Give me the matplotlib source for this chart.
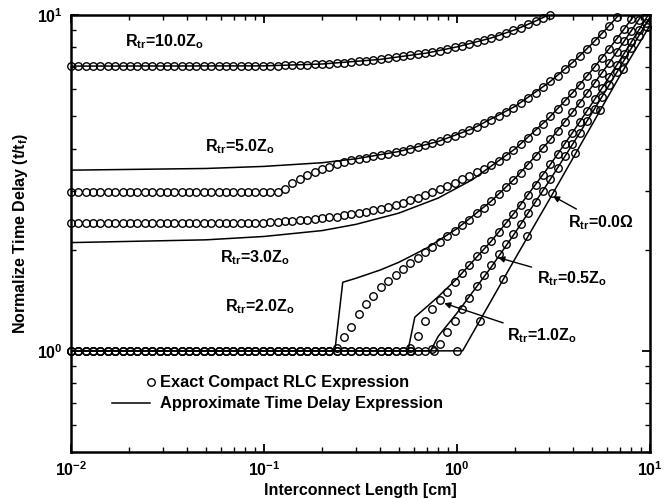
#!/usr/bin/env python3

"""Normalized time delay vs interconnect length, exact vs approximate."""

import math

import matplotlib
matplotlib.use("Agg")
import matplotlib.pyplot as plt
from matplotlib.ticker import FuncFormatter, LogLocator, NullFormatter

plt.rcParams["font.family"] = ["Liberation Sans", "DejaVu Sans"]
plt.rcParams["font.weight"] = "bold"
plt.rcParams["mathtext.fontset"] = "custom"
plt.rcParams["mathtext.rm"] = "Liberation Sans:bold"
plt.rcParams["mathtext.bf"] = "Liberation Sans:bold"
plt.rcParams["mathtext.it"] = "Liberation Sans:bold"
plt.rcParams["mathtext.default"] = "bf"

# interconnect lengths [cm] at which the exact expression was sampled
GRID = [0.0100, 0.0109, 0.0119, 0.0130, 0.0142, 0.0155, 0.0170, 0.0185, 0.0202, 0.0221,
        0.0241, 0.0264, 0.0288, 0.0314, 0.0343, 0.0375, 0.0409, 0.0447, 0.0488, 0.0533,
        0.0582, 0.0635, 0.0694, 0.0758, 0.0827, 0.0903, 0.0986, 0.108, 0.118, 0.128,
        0.140, 0.153, 0.167, 0.183, 0.199, 0.218, 0.238, 0.260, 0.284, 0.310,
        0.338, 0.369, 0.403, 0.440, 0.481, 0.525, 0.573, 0.626, 0.684, 0.747,
        0.815, 0.890, 0.972, 1.06, 1.16, 1.27, 1.38, 1.51, 1.65, 1.80,
        1.96, 2.14, 2.34, 2.56, 2.79, 3.05, 3.33, 3.63, 3.97, 4.33,
        4.73, 5.17, 5.64, 6.16, 6.73, 7.35, 8.02, 8.76, 9.56]

# exact compact RLC expression (circles), values on GRID
exact_10 = [7.04] * 27 + [
    7.05, 7.06, 7.07, 7.08, 7.09, 7.10, 7.12, 7.14, 7.16, 7.18, 7.21, 7.24, 7.27,
    7.30, 7.34, 7.38, 7.42, 7.47, 7.52, 7.57, 7.63, 7.69, 7.76, 7.83, 7.91, 8.00,
    8.09, 8.19, 8.30, 8.41, 8.54, 8.68, 8.83, 8.99, 9.17, 9.37, 9.59, 9.82, 10.0]
exact_5 = [2.98] * 29 + [
    3.03, 3.15, 3.25, 3.33, 3.41, 3.47, 3.53, 3.59, 3.64, 3.69, 3.73, 3.76, 3.79,
    3.82, 3.86, 3.90, 3.94, 3.98, 4.03, 4.09, 4.15, 4.21, 4.29, 4.36, 4.45, 4.54,
    4.65, 4.75, 4.87, 5.01, 5.15, 5.30, 5.47, 5.66, 5.87, 6.09, 6.34, 6.60, 6.89,
    7.21, 7.55, 7.93, 8.35, 8.80, 9.29, 9.83]
exact_3 = [2.41] * 27 + [
    2.42, 2.42, 2.43, 2.44, 2.45, 2.46, 2.47, 2.48, 2.50, 2.51, 2.53, 2.55, 2.57,
    2.59, 2.62, 2.65, 2.68, 2.72, 2.76, 2.81, 2.86, 2.91, 2.97, 3.03, 3.10, 3.17,
    3.24, 3.32, 3.40, 3.48, 3.57, 3.67, 3.80, 3.95, 4.12, 4.31, 4.52, 4.74, 4.99,
    5.25, 5.54, 5.86, 6.20, 6.58, 7.00, 7.45, 7.94, 8.48, 9.07, 9.71]
exact_2 = [1.0] * 36 + [
    1.02, 1.10, 1.18, 1.29, 1.38, 1.46, 1.55, 1.61, 1.68, 1.75, 1.82, 1.89, 1.97,
    2.04, 2.11, 2.20, 2.28, 2.37, 2.46, 2.57, 2.67, 2.79, 2.93, 3.07, 3.22, 3.39,
    3.58, 3.79, 4.01, 4.26, 4.52, 4.81, 5.13, 5.47, 5.85, 6.27, 6.72, 7.21, 7.75,
    8.34, 8.98, 9.68]
exact_1 = [1.0] * 46 + [
    1.02, 1.11, 1.23, 1.33, 1.42, 1.50, 1.60, 1.70, 1.80, 1.91, 2.01, 2.13, 2.26,
    2.40, 2.55, 2.72, 2.91, 3.12, 3.34, 3.59, 3.85, 4.14, 4.46, 4.80, 5.18, 5.60,
    6.05, 6.54, 7.08, 7.67, 8.31, 9.01, 9.77]
exact_05 = [1.0] * 49 + [
    1.01, 1.05, 1.14, 1.23, 1.33, 1.44, 1.56, 1.68, 1.80, 1.94, 2.08, 2.23, 2.38,
    2.57, 2.78, 2.99, 3.24, 3.51, 3.79, 4.12, 4.46, 4.84, 5.26, 5.70, 6.20, 6.74,
    7.33, 7.96, 8.67, 9.43]
exact_0_x = [0.44, 0.578, 0.76, 1.0, 1.315, 1.73, 2.31, 3.1, 4.08, 5.5, 7.24, 9.64]
exact_0_y = [1.0, 1.0, 1.0, 1.0, 1.23, 1.64, 2.2, 2.95, 3.88, 5.2, 6.9, 9.2]

# approximate time delay expression (lines)
approx = {
    "10": ([0.01, 0.1, 0.2, 0.4, 0.7, 1.0, 1.5, 2.0, 2.5, 3.1],
           [7.04, 7.05, 7.14, 7.37, 7.70, 8.03, 8.53, 9.03, 9.53, 10.1]),
    "5": ([0.01, 0.05, 0.1, 0.2, 0.3, 0.5, 0.8, 1.2, 2, 3, 4, 5, 6, 7],
          [3.45, 3.49, 3.54, 3.63, 3.73, 3.92, 4.2, 4.58, 5.34, 6.29, 7.24, 8.19, 9.14, 10.09]),
    "3": ([0.01, 0.05, 0.1, 0.2, 0.3, 0.5, 0.8, 1.2, 2, 3, 4, 5, 6, 7, 8, 8.5],
          [2.10, 2.14, 2.19, 2.28, 2.38, 2.57, 2.85, 3.23, 3.99, 4.94, 5.89, 6.84,
           7.79, 8.74, 9.69, 10.17]),
    "2": ([0.01, 0.233, 0.256, 0.3, 0.4, 0.5, 0.7, 1.0, 1.5, 2, 3, 4, 5, 6, 7, 8, 9, 9.5],
          [1, 1, 1.6, 1.645, 1.74, 1.835, 2.025, 2.31, 2.785, 3.26, 4.21, 5.16, 6.11,
           7.06, 8.01, 8.96, 9.91, 10.39]),
    "1": ([0.01, 0.557, 0.605, 0.7, 0.8, 1, 1.5, 2, 3, 4, 5, 6, 7, 8, 9, 10],
          [1, 1, 1.26, 1.355, 1.45, 1.64, 2.115, 2.59, 3.54, 4.49, 5.44, 6.39, 7.34,
           8.29, 9.24, 10.19]),
    "0.5": ([0.01, 0.73, 0.8, 1, 1.5, 2, 3, 4, 5, 6, 7, 8, 9, 10],
            [1, 1, 1.105, 1.295, 1.77, 2.245, 3.195, 4.145, 5.095, 6.045, 6.995,
             7.945, 8.895, 9.845]),
    "0": ([0.01, 1.07, 2, 3, 5, 7, 10],
          [1, 1, 1.88, 2.81, 4.7, 6.6, 9.3]),
}


def main():
    fig = plt.figure(figsize=(6.67, 4.99), dpi=100)
    ax = fig.add_axes([0.1064, 0.0942, 0.868, 0.876])
    ax.set_xscale("log")
    ax.set_yscale("log")

    for xs, ys in approx.values():
        ax.plot(xs, ys, color="black", lw=1.1, zorder=2)

    mk = dict(ls="none", marker="o", ms=5.4, mfc="none", mec="black", mew=1.0,
              clip_on=False, zorder=3)
    for ys in [exact_10, exact_5, exact_3, exact_2, exact_1, exact_05]:
        ax.plot(GRID[:len(ys)], ys, **mk)
    ax.plot(exact_0_x, exact_0_y, **mk)

    ax.set_xlim(0.01, 10)
    ax.set_ylim(0.5, 10)

    fmt = FuncFormatter(lambda v, p: r"$10^{%d}$" % round(math.log10(v)))
    for axis in (ax.xaxis, ax.yaxis):
        axis.set_major_locator(LogLocator(base=10))
        axis.set_minor_locator(LogLocator(base=10, subs=range(2, 10)))
        axis.set_major_formatter(fmt)
        axis.set_minor_formatter(NullFormatter())
    ax.tick_params(which="both", direction="in", top=True, right=True, labelsize=11.5)
    ax.tick_params(which="major", length=6, width=1.3, pad=6)
    ax.tick_params(which="minor", length=3.5, width=1.0)
    for sp in ax.spines.values():
        sp.set_linewidth(1.8)

    ax.set_xlabel("Interconnect Length [cm]", fontsize=11.5, fontweight="bold", labelpad=3)
    ax.set_ylabel("Normalize Time Delay (t/t$_{f}$)", fontsize=11.5, fontweight="bold",
                  labelpad=5)

    fs = 11.5
    ax.text(0.0191, 8.3, "R$_{tr}$=10.0Z$_{o}$", fontsize=fs, va="center")
    ax.text(0.0495, 4.06, "R$_{tr}$=5.0Z$_{o}$", fontsize=fs, va="center")
    ax.text(0.0591, 1.9, "R$_{tr}$=3.0Z$_{o}$", fontsize=fs, va="center")
    ax.text(0.0628, 1.35, "R$_{tr}$=2.0Z$_{o}$", fontsize=fs, va="center")

    arrow = dict(arrowstyle="-|>", color="black", lw=1.0, mutation_scale=9,
                 shrinkA=2, shrinkB=1)
    ax.annotate("R$_{tr}$=0.0\u03a9", xy=(3.1, 2.9), xytext=(3.76, 2.41),
                fontsize=fs, va="center", ha="left", arrowprops=arrow)
    ax.annotate("R$_{tr}$=0.5Z$_{o}$", xy=(1.61, 1.9), xytext=(2.6, 1.64),
                fontsize=fs, va="center", ha="left", arrowprops=arrow)
    ax.annotate("R$_{tr}$=1.0Z$_{o}$", xy=(0.845, 1.39), xytext=(1.82, 1.108),
                fontsize=fs, va="center", ha="left", arrowprops=arrow)

    # legend drawn by hand, marker sits at the right end of the handle
    tr = ax.transAxes
    ax.plot([0.138], [0.160], transform=tr, ls="none", marker="o", ms=5.4,
            mfc="none", mec="black", mew=1.0)
    ax.text(0.154, 0.160, "Exact Compact RLC Expression", transform=tr,
            fontsize=11.8, va="center")
    ax.plot([0.071, 0.136], [0.112, 0.112], transform=tr, color="black", lw=1.1)
    ax.text(0.154, 0.112, "Approximate Time Delay Expression", transform=tr,
            fontsize=11.8, va="center")

    fig.savefig("out.png", dpi=100)


if __name__ == "__main__":
    main()
